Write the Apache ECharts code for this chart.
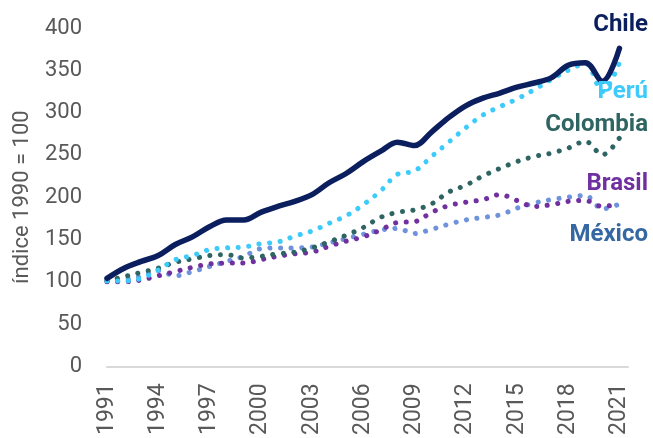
<!DOCTYPE html>
<html lang="es">
<head>
    <meta charset="UTF-8">
    <title>Índice 1990 = 100</title>
    <script src="https://cdn.jsdelivr.net/npm/echarts@6/dist/echarts.min.js"></script>
    <style>
        html, body { margin: 0; padding: 0; background: #fff; }
        #chart { width: 653px; height: 438px; }
    </style>
</head>
<body>
    <div id="chart"></div>
    <script type="text/javascript">
        var years = [];
        for (var y = 1991; y <= 2021; y++) years.push(y);

        var chile    = [104,116,124,131,144,153,165,173,173,182,189,195,203,217,228,242,254,265,261,277,294,308,317,323,330,335,341,356,359,337,376];
        var peru     = [101,101,104,114,126,131,138,140,141,145,147,154,160,169,178,191,207,227,231,248,265,282,297,307,316,327,339,350,358,325,359];
        var colombia = [101,106,111,116,123,127,131,132,128,130,133,135,140,147,155,164,176,182,185,192,206,214,225,234,242,248,252,258,266,250,270];
        var brasil   = [100,100,102,107,112,117,121,122,122,126,130,133,135,142,148,153,161,170,171,182,190,194,197,203,196,189,191,195,196,189,192];
        var mexico   = [101,103,106,113,107,112,118,124,130,139,140,140,141,146,151,156,161,163,157,162,168,173,176,179,187,193,197,200,202,186,192];

        var names  = ['Chile', 'Perú', 'Colombia', 'Brasil', 'México'];
        var colors = ['#0b1f5e', '#3ccbfb', '#2e6461', '#7030a0', '#6e93dc'];
        var labelColors = ['#0b1f5e', '#3ccbfb', '#2e6461', '#7030a0', '#3567a2'];
        var labelTops = [13, 80, 113, 172, 223];

        function pairs(arr) {
            return arr.map(function (v, i) { return [years[i], v]; });
        }

        var seriesData = [chile, peru, colombia, brasil, mexico];
        // draw order: back to front
        var order = [4, 3, 2, 1, 0];
        var series = order.map(function (k) {
            return {
                name: names[k],
                type: 'line',
                data: pairs(seriesData[k]),
                smooth: 0.35,
                showSymbol: false,
                lineStyle: k === 0 ? {
                    color: colors[k], width: 5.5, cap: 'round', join: 'round'
                } : {
                    color: colors[k], width: 5, type: [0.1, 10.5], cap: 'round'
                }
            };
        });

        var option = {
            animation: false,
            textStyle: { fontFamily: 'Roboto' },
            grid: { left: 107, right: 25, top: 28, bottom: 66 },
            xAxis: {
                type: 'value',
                min: 1991,
                max: 2021.5,
                interval: 3,
                splitLine: { show: false },
                axisTick: { show: false },
                axisLine: { show: true, lineStyle: { color: '#d9d9d9', width: 2 } },
                axisLabel: {
                    rotate: 90,
                    margin: 17,
                    fontSize: 23,
                    color: '#595959',
                    showMaxLabel: false,
                    formatter: function (v) { return String(v); }
                }
            },
            yAxis: {
                type: 'value',
                min: 0,
                max: 400,
                interval: 50,
                name: 'índice 1990 = 100',
                nameLocation: 'middle',
                nameGap: 74,
                nameTextStyle: { fontSize: 22, color: '#595959' },
                splitLine: { show: false },
                axisLine: { show: false },
                axisTick: { show: false },
                axisLabel: { fontSize: 22, color: '#595959', margin: 25 }
            },
            graphic: names.map(function (n, i) {
                return {
                    type: 'text',
                    right: 5,
                    top: labelTops[i],
                    z: 100,
                    style: {
                        text: n,
                        fill: labelColors[i],
                        font: 'bold 24px Roboto'
                    }
                };
            }),
            series: series
        };

        var myChart = echarts.init(document.getElementById('chart'));
        myChart.setOption(option);
    </script>
</body>
</html>
